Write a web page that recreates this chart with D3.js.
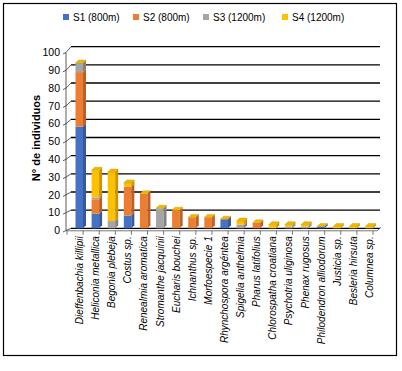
<!DOCTYPE html>
<html><head><meta charset="utf-8">
<script src="https://cdn.jsdelivr.net/npm/d3@7"></script>
<style>body{margin:0;background:#fff}svg{display:block}text{font-family:"Liberation Sans",Arial,sans-serif}</style>
</head><body><svg id="c" width="402" height="371"></svg>
<script>
const categories = ["Dieffenbachia killipii","Heliconia metallica","Begonia plebeja","Costus sp.","Renealmia aromatica","Stromanthe jacquinii","Eucharis bouchei","Ichnanthus sp.","Morfoespecie 1","Rhynchospora argéntea","Spigelia anthelmia","Pharus latifolius","Chlorospatha croatiana","Psychotria  uliginosa","Phenax rugosus","Philodendron alliodorum","Justicia sp.","Besleria hirsuta","Columnea sp."];
const seriesNames = ["S1 (800m)","S2 (800m)","S3 (1200m)","S4 (1200m)"];
const s1 = [56,8,0,7,0,0,0,0,0,5,0,0,0,0,0,1,0,0,0];
const s2 = [30,8,0,16,19,0,10,6,6,0,0,3,0,0,0,0,0,0,0];
const s3 = [5,1,4,0,0,11,0,0,0,0,2,0,0,1,1,0,0,0,0];
const s4 = [0,15,27,2,0,0,0,0,0,0,2,0,2,1,1,0,1,1,1];
const yTicks = [0,10,20,30,40,50,60,70,80,90,100];
const yTitle = "N° de individuos";

const colors = ["#4472C4","#ED7D31","#A5A5A5","#FFC000"];
const svg = d3.select("#c");

// frame
svg.append("rect").attr("x",3.5).attr("y",3.5).attr("width",393).attr("height",352)
  .attr("fill","none").attr("stroke","#000").attr("stroke-width",1.2);

const y = d3.scaleLinear().domain([0,100]).range([228.3,46.7]);      // back wall
const yF = d3.scaleLinear().domain([0,100]).range([230.5,52.5]);     // front axis
const x = d3.scaleBand().domain(categories).range([71,377]).padding(0);
const bw = x.bandwidth();
const dx = 3, dy = -3;

// gridlines (back wall)
svg.append("g").selectAll("line").data(yTicks).join("line")
  .attr("x1",71).attr("x2",380).attr("y1",d=>y(d)).attr("y2",d=>y(d))
  .attr("stroke","#000").attr("stroke-width",1.3);

// left axis (front) with slanted ticks
const ax = svg.append("g");
ax.append("line").attr("x1",66).attr("x2",66).attr("y1",yF(0)).attr("y2",yF(100))
  .attr("stroke","#333").attr("stroke-width",0.8);
ax.selectAll("path.t").data(yTicks).join("path").attr("class","t")
  .attr("d",d=>`M63,${yF(d)+1.5} L66,${yF(d)} L71,${y(d)}`)
  .attr("fill","none").attr("stroke","#333").attr("stroke-width",0.8);
ax.selectAll("text").data(yTicks).join("text")
  .attr("x",60).attr("y",d=>yF(d)).attr("dy","0.35em").attr("text-anchor","end")
  .attr("font-size","10.5px").attr("fill","#000").text(d=>d);

// floor
const f = svg.append("g");
f.append("path").attr("d",`M66,${y(0)+2.5} L377,${y(0)+2.5} L381,${y(0)-1}`)
  .attr("fill","none").attr("stroke","#555").attr("stroke-width",0.8);
f.selectAll("line").data(d3.range(categories.length+1)).join("line")
  .attr("x1",i=>71+i*bw-4).attr("x2",i=>71+i*bw-4)
  .attr("y1",y(0)+2.5).attr("y2",y(0)+6.5).attr("stroke","#555").attr("stroke-width",0.8);

// stacked bars
const table = categories.map((c,i)=>({cat:c,S1:s1[i],S2:s2[i],S3:s3[i],S4:s4[i]}));
const stack = d3.stack().keys(["S1","S2","S3","S4"])(table);
const shade = (c,k)=>d3.rgb(c).darker(k).toString();
const gb = svg.append("g");
categories.forEach((c,i)=>{
  const x0 = x(c)+4.5, w = 7.5;
  let top = 0;
  stack.forEach((s,si)=>{
    const [a,b] = s[i];
    if (b-a <= 0) return;
    const yt = y(b), yb = y(a);
    gb.append("rect").attr("x",x0).attr("y",yt).attr("width",w).attr("height",yb-yt).attr("fill",colors[si]);
    gb.append("path").attr("d",`M${x0+w},${yb} L${x0+w+dx},${yb+dy} L${x0+w+dx},${yt+dy} L${x0+w},${yt} Z`)
      .attr("fill",shade(colors[si],0.7));
    top = b;
  });
  const yt = y(top);
  gb.append("path").attr("d",`M${x0},${yt} L${x0+dx},${yt+dy} L${x0+w+dx},${yt+dy} L${x0+w},${yt} Z`)
    .attr("fill","#F2B600").attr("stroke","#C99700").attr("stroke-width",0.4);
});

// x labels
svg.append("g").selectAll("text").data(categories).join("text")
  .attr("transform",c=>`translate(${x(c)+bw/2+0.5},${y(0)+8}) rotate(-90)`)
  .attr("text-anchor","end").attr("dy","0.35em").attr("font-size","10px")
  .attr("font-style","italic").attr("fill","#000").text(c=>c);

// y title
svg.append("text").attr("transform",`translate(36,138) rotate(-90)`)
  .attr("text-anchor","middle").attr("dy","0.35em").attr("font-size","11px")
  .attr("font-weight","bold").attr("fill","#000").text(yTitle);

// legend
const lx = [63,133,203,282];
const lg = svg.append("g");
seriesNames.forEach((n,i)=>{
  lg.append("rect").attr("x",lx[i]).attr("y",14).attr("width",6).attr("height",6).attr("fill",colors[i]);
  lg.append("text").attr("x",lx[i]+10).attr("y",17).attr("dy","0.35em").attr("font-size","10px").attr("fill","#000").text(n);
});
</script></body></html>
